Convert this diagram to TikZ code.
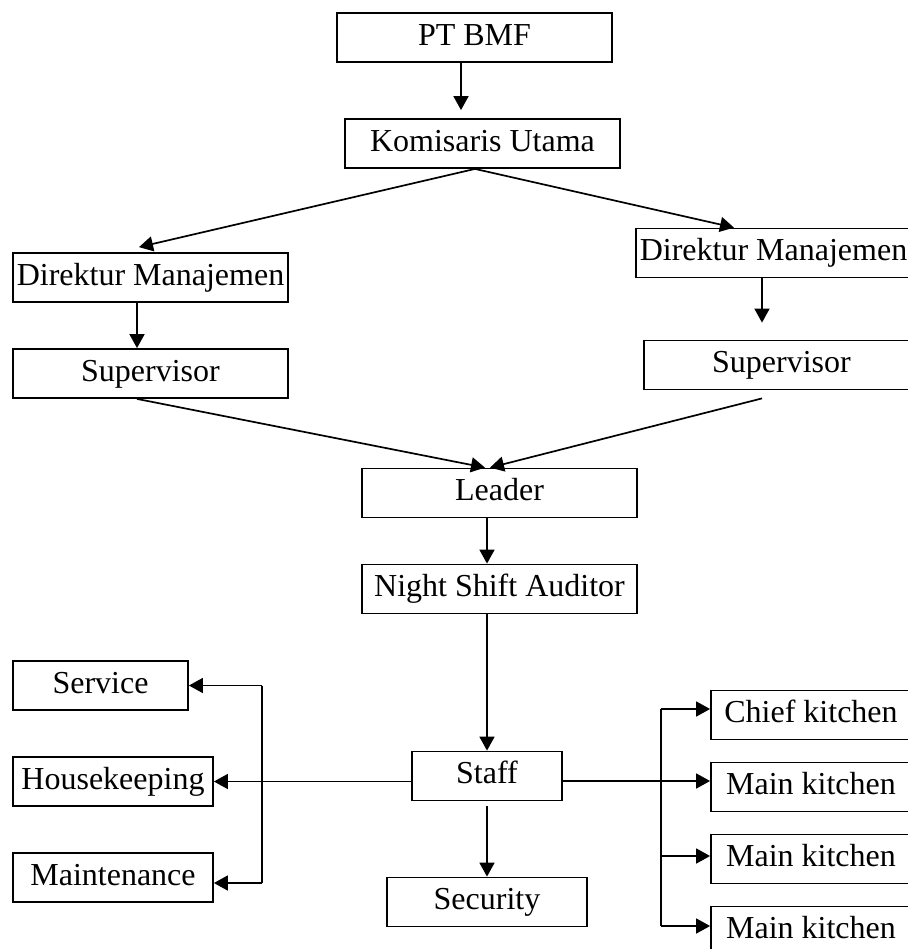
\documentclass[tikz,border=0pt]{standalone}
\usepackage{fontspec}
\setmainfont{Liberation Serif}
\usepackage{tikz}
\usetikzlibrary{arrows.meta, calc}

\begin{document}
\begin{tikzpicture}[x=0.5pt, y=-0.5pt, >={Triangle[length=7pt, width=7.5pt]},
    every node/.style={font=\fontsize{16}{19}\selectfont},
    box/.style={draw, line width=0.9pt, minimum height=24.5pt, inner sep=0pt,
      text height=11pt, text depth=3.5pt, minimum width=137.5pt},
    arr/.style={->, line width=0.85pt}]
  \clip (0,0) rectangle (908,949);
  % top of the chart
  \node[box] (bmf) at (474.5,37.5) {PT BMF};
  \node[box] (kom) at (482.5,143.5) {Komisaris Utama};
  \node[box] (dirL) at (150.5,277.5) {Direktur Manajemen};
  \node[box] (supL) at (150.5,373.5) {Supervisor};
  \node[box] (dirR) at (773.5,253) {Direktur Manajemen};
  \node[box] (supR) at (781.5,365) {Supervisor};
  \node[box] (leader) at (499.5,493) {Leader};
  \node[box] (audit) at (499.5,589) {Night Shift Auditor};
  % bottom of the chart
  \node[box, minimum width=75pt] (staff) at (487,776) {Staff};
  \node[box, minimum width=100pt] (secur) at (487,902) {Security};
  \node[box, minimum width=87.5pt] (serv) at (100.5,685.5) {Service};
  \node[box, minimum width=100pt] (house) at (113,781.5) {Housekeeping};
  \node[box, minimum width=100pt] (maint) at (113,877.5) {Maintenance};
  \node[box, minimum width=100pt] (chief) at (811,715) {Chief kitchen};
  \node[box, minimum width=100pt] (main1) at (811,787) {Main kitchen};
  \node[box, minimum width=100pt] (main2) at (811,859) {Main kitchen};
  \node[box, minimum width=100pt] (main3) at (811,931) {Main kitchen};

  \draw[arr] ($(bmf.south)+(-13.5,0)$) -- ($(kom.north)+(-21.5,-8)$);
  \draw[arr] ($(kom.south)+(-7.5,0)$) -- ($(dirL.north)+(-11.5,-5)$);
  \draw[arr] ($(kom.south)+(-7.5,0)$) -- ($(dirR.north)+(-39.5,0)$);
  \draw[arr] ($(dirL.south)+(-13.5,0)$) -- ($(supL.north)+(-13.5,0)$);
  \draw[arr] ($(dirR.south)+(-11.5,0)$) -- ($(supR.north)+(-19.5,-17)$);
  \draw[arr] ($(supL.south)+(-13.5,0)$) -- ($(leader.north)+(-14.5,0)$);
  \draw[arr] ($(supR.south)+(-19.5,8)$) -- ($(leader.north)+(-9.5,0)$);
  \draw[arr] ($(leader.south)+(-12.5,0)$) -- ($(audit.north)+(-12.5,0)$);
  \draw[arr] ($(audit.south)+(-12.5,0)$) -- (staff.north);
  \draw[arr] ($(staff.south)+(0,5)$) -- (secur.north);
  \draw[arr] (staff.west |- house.east) -- (house.east);

  % left branch
  \coordinate (bl1) at (262,685.5);
  \coordinate (bl2) at (262,883);
  \draw[line width=0.85pt] (bl1) -- (bl2);
  \draw[arr] (bl1) -- (serv.east);
  \draw[arr] (bl2) -- (bl2 -| maint.east);

  % right branch
  \coordinate (br1) at (661,709);
  \coordinate (br2) at (661,856);
  \coordinate (br3) at (661,926);
  \coordinate (sr) at ($(staff.east)+(0,5)$);
  \draw[line width=0.85pt] (br1) -- (br3);
  \draw[arr] (br1) -- (br1 -| chief.west);
  \draw[arr] (sr) -- (sr -| main1.west);
  \draw[arr] (br2) -- (br2 -| main2.west);
  \draw[arr] (br3) -- (br3 -| main3.west);
\end{tikzpicture}
\end{document}
